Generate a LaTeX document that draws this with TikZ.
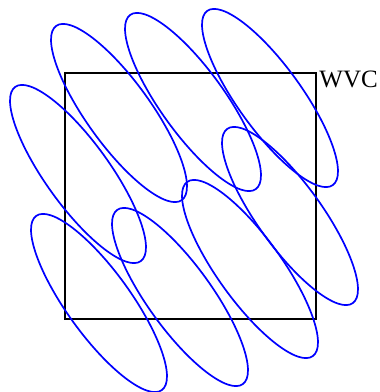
\documentclass[tikz,border=0pt]{standalone}
\usepackage{fontspec}
\setmainfont{Liberation Serif}
\begin{document}
\begin{tikzpicture}[x=1pt,y=1pt,
  ell/.style={draw=blue, line width=1.7pt},
  boxline/.style={draw=black, line width=1.8pt}]
\useasboundingbox (0,0) rectangle (380,392);
\draw[boxline] (65,73) rectangle (316,319);
\node[anchor=base west, inner sep=0pt, font=\fontsize{25}{29}\selectfont] (lbl) at (319.3,304) {WVC};
\foreach \cx/\cy in {78/218, 119/279, 193/290, 270/294, 290/176, 250/123, 180/95, 99/89}{
  \draw[ell, rotate around={-54.2:(\cx,\cy)}] (\cx,\cy) ellipse [x radius=107.4, y radius=32];
}
\end{tikzpicture}
\end{document}
